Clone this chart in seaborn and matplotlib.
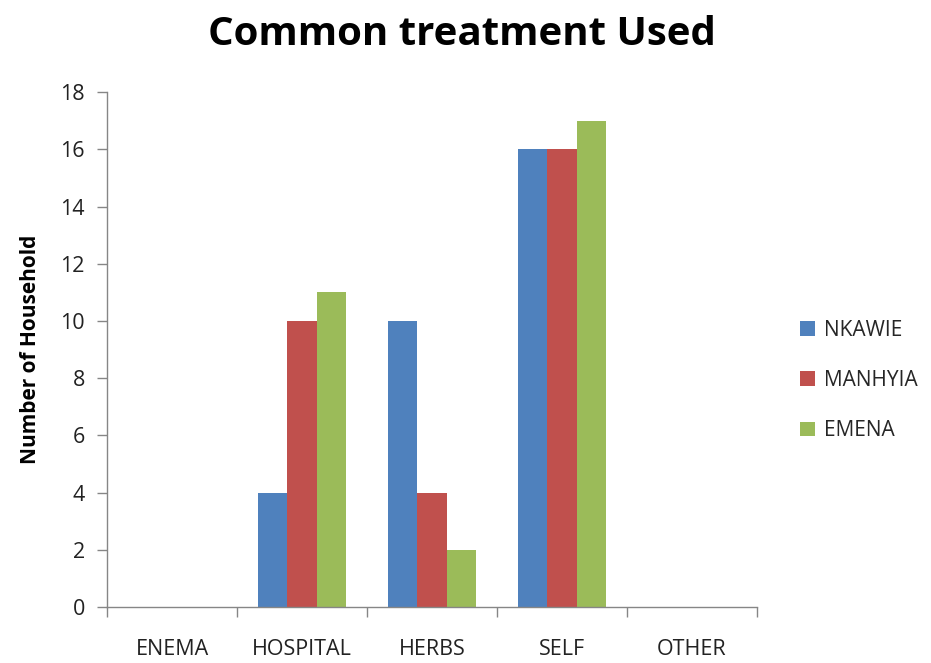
import matplotlib
matplotlib.use("Agg")
import matplotlib.pyplot as plt
import seaborn as sns
import pandas as pd
from matplotlib.ticker import FixedLocator

categories = ["ENEMA", "HOSPITAL", "HERBS", "SELF", "OTHER"]
series = ["NKAWIE", "MANHYIA", "EMENA"]
nkawie = [0, 4, 10, 16, 0]
manhyia = [0, 10, 4, 16, 0]
emena = [0, 11, 2, 17, 0]
colors = ["#4F81BD", "#C0504D", "#9BBB59"]

df = pd.DataFrame({
    "treatment": categories * 3,
    "town": [s for s in series for _ in categories],
    "households": nkawie + manhyia + emena,
})

sns.set_theme(style="white")
plt.rcParams["font.family"] = ["Open Sans", "DejaVu Sans"]

fig = plt.figure(figsize=(9.31, 6.63), dpi=100)
ax = fig.add_axes([0.115, 0.0845, 0.698, 0.7765])

sns.barplot(data=df, x="treatment", y="households", hue="town",
            order=categories, hue_order=series, palette=colors,
            width=0.68, saturation=1, linewidth=0, ax=ax)

ax.set_xlim(-0.5, 4.5)
ax.set_ylim(0, 18)
ax.set_yticks(range(0, 19, 2))
ax.tick_params(axis="y", which="major", left=True, length=7, width=1,
               color="#868686", labelsize=15.5, pad=9, labelcolor="#222222")
ax.tick_params(axis="x", which="major", bottom=False, length=0,
               labelsize=15.5, pad=23, labelcolor="#222222")
ax.xaxis.set_minor_locator(FixedLocator([-0.5, 0.5, 1.5, 2.5, 3.5, 4.5]))
ax.tick_params(axis="x", which="minor", bottom=True, length=7, width=1,
               color="#868686")

for side in ["top", "right"]:
    ax.spines[side].set_visible(False)
for side in ["left", "bottom"]:
    ax.spines[side].set_color("#868686")
    ax.spines[side].set_linewidth(1)

ax.set_xlabel("")
ax.set_ylabel("Number of Household", fontsize=15, fontweight="bold",
              labelpad=14, color="black")
fig.suptitle("Common treatment Used", fontsize=29, fontweight="bold",
             x=0.496, y=0.978, color="black")

handles, labels = ax.get_legend_handles_labels()
ax.legend(handles, labels, loc="center left", bbox_to_anchor=(1.038, 0.44),
          frameon=False, fontsize=15, handlelength=0.7, handleheight=0.7,
          handletextpad=0.45, labelspacing=1.4)

fig.savefig("out.png", dpi=100, facecolor="white")
